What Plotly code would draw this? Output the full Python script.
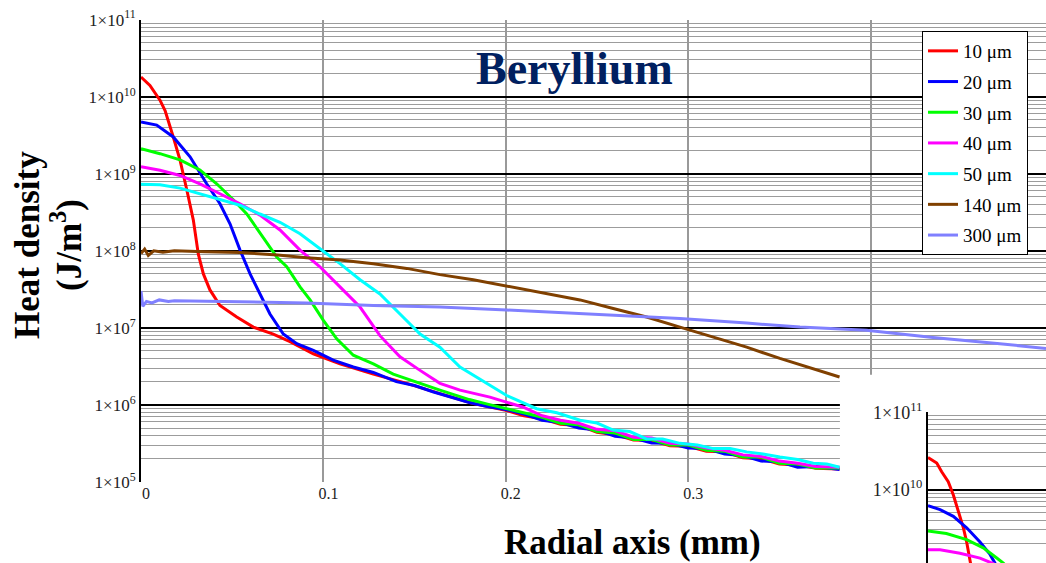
import plotly.graph_objects as go

SERIF = "Liberation Serif"

# ---- main panel: radial heat density in beryllium for several beam sizes ----
# radial position (mm) / heat density (J/m^3)
r_10 = [0, 0.0049, 0.0104, 0.0132, 0.0177, 0.0214, 0.0251, 0.0287, 0.0314, 0.0342, 0.0378,
        0.0433, 0.0525, 0.0616, 0.0725, 0.0817, 0.0945, 0.1091, 0.1274, 0.1457, 0.1639, 0.1822,
        0.20, 0.21, 0.22, 0.23, 0.24, 0.25, 0.26, 0.27, 0.28, 0.29, 0.30, 0.31, 0.32, 0.33,
        0.34, 0.35, 0.36, 0.37, 0.383]
q_10 = [1.8e10, 1.4e10, 9.0e9, 6.6e9, 3.0e9, 1.5e9, 6.2e8, 2.5e8, 9.1e7, 5.0e7, 3.1e7,
        1.95e7, 1.38e7, 1.02e7, 8.3e6, 6.6e6, 4.6e6, 3.4e6, 2.5e6, 1.9e6, 1.4e6, 1.04e6,
        8.5e5, 7.2e5, 6.6e5, 5.6e5, 5.4e5, 4.4e5, 4.1e5, 3.5e5, 3.45e5, 2.95e5, 2.9e5, 2.5e5,
        2.45e5, 2.05e5, 2.0e5, 1.7e5, 1.66e5, 1.5e5, 1.47e5]

r_20 = [0, 0.0086, 0.0177, 0.0269, 0.036, 0.0433, 0.0488, 0.0543, 0.0598, 0.0652, 0.0707,
        0.078, 0.0854, 0.0945, 0.1054, 0.1164, 0.1274, 0.14, 0.15, 0.16, 0.17, 0.18, 0.19,
        0.20, 0.21, 0.22, 0.23, 0.24, 0.25, 0.26, 0.27, 0.28, 0.29, 0.30, 0.31, 0.32, 0.33,
        0.34, 0.35, 0.36, 0.37, 0.383]
q_20 = [4.7e9, 4.27e9, 3.0e9, 1.66e9, 7.4e8, 4.07e8, 2.24e8, 1.02e8, 5.0e7, 2.75e7, 1.51e7,
        8.3e6, 6.2e6, 5.1e6, 3.8e6, 3.1e6, 2.63e6, 2.0e6, 1.78e6, 1.48e6, 1.26e6, 1.07e6, 9.5e5,
        8.7e5, 7.6e5, 6.3e5, 5.9e5, 5.0e5, 4.7e5, 3.9e5, 3.7e5, 3.2e5, 3.16e5, 2.75e5, 2.7e5,
        2.3e5, 2.2e5, 1.86e5, 1.82e5, 1.55e5, 1.58e5, 1.45e5]

r_30 = [0, 0.0104, 0.0214, 0.0323, 0.0415, 0.0506, 0.058, 0.067, 0.0744, 0.0799, 0.0872,
        0.0927, 0.0999, 0.1073, 0.1164, 0.1274, 0.1383, 0.1639, 0.18, 0.19,
        0.20, 0.21, 0.22, 0.23, 0.24, 0.25, 0.26, 0.27, 0.28, 0.29, 0.30, 0.31, 0.32, 0.33,
        0.34, 0.35, 0.36, 0.37, 0.383]
q_30 = [2.12e9, 1.82e9, 1.51e9, 1.12e9, 7.4e8, 4.6e8, 3.0e8, 1.51e8, 8.3e7, 6.2e7, 3.4e7,
        2.3e7, 1.26e7, 7.2e6, 4.4e6, 3.4e6, 2.5e6, 1.55e6, 1.17e6, 1.02e6,
        8.9e5, 7.8e5, 6.9e5, 5.75e5, 5.5e5, 4.5e5, 4.3e5, 3.55e5, 3.55e5, 3.0e5, 3.0e5, 2.57e5,
        2.5e5, 2.1e5, 2.1e5, 1.74e5, 1.7e5, 1.51e5, 1.51e5]

r_40 = [0, 0.0104, 0.0214, 0.0323, 0.0433, 0.0543, 0.0652, 0.0762, 0.0872, 0.0981, 0.1091,
        0.1201, 0.131, 0.142, 0.153, 0.1639, 0.1749, 0.1913, 0.2096,
        0.22, 0.23, 0.24, 0.25, 0.26, 0.27, 0.28, 0.29, 0.30, 0.31, 0.32, 0.33, 0.34, 0.35,
        0.36, 0.37, 0.383]
q_40 = [1.23e9, 1.11e9, 9.5e8, 7.4e8, 5.5e8, 4.07e8, 2.9e8, 1.86e8, 1.02e8, 6.2e7, 3.4e7,
        1.86e7, 7.9e6, 4.2e6, 2.8e6, 1.9e6, 1.55e6, 1.26e6, 9.3e5,
        7.2e5, 6.3e5, 5.75e5, 4.8e5, 4.6e5, 3.8e5, 3.7e5, 3.16e5, 3.1e5, 2.75e5, 2.57e5, 2.24e5,
        2.14e5, 1.86e5, 1.74e5, 1.58e5, 1.55e5]

r_50 = [0, 0.0104, 0.0214, 0.0323, 0.0433, 0.0543, 0.0652, 0.0762, 0.0872, 0.0981, 0.1091,
        0.1201, 0.131, 0.142, 0.153, 0.1639, 0.1749, 0.1895, 0.2005, 0.2169,
        0.228, 0.2407, 0.25, 0.2589, 0.268, 0.2772, 0.286, 0.2955, 0.305, 0.3138, 0.323,
        0.3321, 0.341, 0.3503, 0.36, 0.3686, 0.376, 0.383]
q_50 = [7.3e8, 7.2e8, 6.5e8, 5.5e8, 4.6e8, 3.9e8, 3.0e8, 2.34e8, 1.66e8, 1.07e8, 6.8e7,
        4.2e7, 2.75e7, 1.51e7, 8.3e6, 5.6e6, 3.1e6, 1.9e6, 1.32e6, 8.9e5,
        7.9e5, 6.3e5, 5.8e5, 4.7e5, 4.5e5, 3.6e5, 3.6e5, 3.16e5, 3.0e5, 2.7e5, 2.7e5,
        2.45e5, 2.3e5, 2.1e5, 1.95e5, 1.74e5, 1.7e5, 1.55e5]

r_140 = [0, 0.002, 0.004, 0.007, 0.012, 0.0183, 0.035, 0.0543, 0.075, 0.0908, 0.1091, 0.1274,
         0.1457, 0.1639, 0.1822, 0.2005, 0.2188, 0.2407, 0.2589, 0.2772, 0.2955, 0.3138,
         0.3321, 0.3503, 0.3686, 0.383]
q_140 = [9.2e7, 1.05e8, 8.7e7, 1.0e8, 9.6e7, 1.0e8, 9.7e7, 9.5e7, 8.8e7, 8.1e7, 7.6e7, 6.8e7,
         5.9e7, 4.9e7, 4.2e7, 3.5e7, 2.9e7, 2.3e7, 1.78e7, 1.38e7, 1.02e7, 7.6e6,
         5.6e6, 4.0e6, 2.95e6, 2.3e6]

r_300 = [0, 0.001, 0.003, 0.006, 0.01, 0.015, 0.0183, 0.04, 0.0543, 0.0908, 0.1274, 0.1639,
         0.2005, 0.2188, 0.2589, 0.2955, 0.3321, 0.3613, 0.3977, 0.4342, 0.4709, 0.4962]
q_300 = [3.0e7, 1.9e7, 2.2e7, 2.1e7, 2.3e7, 2.2e7, 2.25e7, 2.2e7, 2.2e7, 2.1e7, 1.95e7, 1.86e7,
         1.7e7, 1.62e7, 1.45e7, 1.32e7, 1.15e7, 1.02e7, 9.3e6, 7.5e6, 6.2e6, 5.4e6]

series_names = ["10 μm", "20 μm", "30 μm", "40 μm", "50 μm", "140 μm", "300 μm"]
series_colors = ["#ff0000", "#0000ff", "#00ff00", "#ff00ff", "#00ffff", "#804000", "#8080ff"]
series_r = [r_10, r_20, r_30, r_40, r_50, r_140, r_300]
series_q = [q_10, q_20, q_30, q_40, q_50, q_140, q_300]

# ---- small inset panel (corner of a second chart) ----
ir_10 = [0, 0.0048, 0.0075, 0.0111, 0.0139, 0.0166, 0.0194, 0.0212, 0.023, 0.026]
iq_10 = [2.6e10, 2.2e10, 1.7e10, 1.26e10, 8.5e9, 5.2e9, 3.2e9, 2.1e9, 1.17e9, 5.0e8]
ir_20 = [0, 0.0066, 0.0139, 0.0212, 0.0285, 0.034, 0.0367, 0.04]
iq_20 = [6.2e9, 5.5e9, 4.5e9, 3.2e9, 2.1e9, 1.45e9, 1.12e9, 8.0e8]
ir_30 = [0, 0.0101, 0.0212, 0.0303, 0.0377, 0.0413, 0.045]
iq_30 = [2.9e9, 2.7e9, 2.25e9, 1.76e9, 1.3e9, 1.12e9, 9.0e8]
ir_40 = [0, 0.0066, 0.0175, 0.0285, 0.0358, 0.042]
iq_40 = [1.66e9, 1.66e9, 1.5e9, 1.3e9, 1.1e9, 9.0e8]
inset_r = [ir_10, ir_20, ir_30, ir_40]
inset_q = [iq_10, iq_20, iq_30, iq_40]

x_ticks = [0, 0.1, 0.2, 0.3, 0.4]
x_ticktext = ["0", "0.1", "0.2", "0.3", ""]
y_ticks = [1e5, 1e6, 1e7, 1e8, 1e9, 1e10, 1e11]
y_ticktext = ["1×10<sup>%d</sup>" % e for e in range(5, 12)]
inset_y_ticks = [1e9, 1e10, 1e11]
inset_y_ticktext = ["1×10<sup>9</sup>", "1×10<sup>10</sup>", "1×10<sup>11</sup>"]

W, H = 1046, 563

fig = go.Figure()
for name, r, q, c in zip(series_names, series_r, series_q, series_colors):
    fig.add_trace(go.Scatter(x=r, y=q, mode="lines", name=name, legendgroup=name,
                             line=dict(color=c, width=3), xaxis="x", yaxis="y"))
for r, q, c in zip(inset_r, inset_q, series_colors):
    fig.add_trace(go.Scatter(x=r, y=q, mode="lines", showlegend=False,
                             line=dict(color=c, width=3), xaxis="x2", yaxis="y2"))

x_tick_font = dict(family=SERIF, size=16, color="#222222")
y_tick_font = dict(family=SERIF, size=17, color="#222222")
minor_grid = dict(dtick="D1", showgrid=True, gridcolor="#9c9c9c", gridwidth=1.4, ticks="")

fig.update_layout(
    width=W, height=H,
    margin=dict(l=0, r=0, t=0, b=0),
    paper_bgcolor="white", plot_bgcolor="white",
    showlegend=True,
    xaxis=dict(domain=[141 / W, 1], range=[0, 0.4962], anchor="y",
               tickmode="array", tickvals=x_ticks, ticktext=x_ticktext,
               showgrid=True, gridcolor="#999999", gridwidth=1.5,
               zeroline=False, showline=False, ticks="", tickfont=x_tick_font,
               ticklabelshift=5, automargin=False),
    yaxis=dict(type="log", domain=[1 - 482 / H, 1 - 19.5 / H], range=[4.998, 11.002],
               anchor="x", tickmode="array", tickvals=y_ticks, ticktext=y_ticktext,
               showgrid=True, gridcolor="black", gridwidth=1.6, minor=minor_grid,
               zeroline=False, showline=True, linecolor="black", linewidth=2,
               ticks="", tickfont=y_tick_font, automargin=False),
    xaxis2=dict(domain=[928 / W, 1], range=[0, 0.0647], anchor="y2",
                showgrid=False, zeroline=False, showline=False, showticklabels=False,
                ticks="", automargin=False),
    yaxis2=dict(type="log", domain=[0, 1 - 412 / H], range=[9.05, 11.003], anchor="x2",
                tickmode="array", tickvals=inset_y_ticks, ticktext=inset_y_ticktext,
                showgrid=True, gridcolor="black", gridwidth=1.6, minor=minor_grid,
                zeroline=False, showline=True, linecolor="black", linewidth=2,
                ticks="", tickfont=dict(family=SERIF, size=18, color="#222222"),
                automargin=False),
    legend=dict(x=922 / W, y=1 - 31 / H, xanchor="left", yanchor="top",
                bgcolor="white", bordercolor="black", borderwidth=1,
                font=dict(family=SERIF, size=19, color="black"),
                traceorder="grouped", tracegroupgap=3),
    shapes=[dict(type="rect", xref="x", yref="y", x0=0.3832, x1=0.6, y0=1e4, y1=2.45e6,
                 fillcolor="white", line=dict(width=0), layer="between")],
    annotations=[
        dict(text="<b>Beryllium</b>", xref="paper", yref="paper", x=574 / W, y=1 - 68.5 / H,
             xanchor="center", yanchor="middle", showarrow=False,
             font=dict(family=SERIF, size=46, color="#002060")),
        dict(text="<b>Radial axis (mm)</b>", xref="paper", yref="paper", x=632 / W, y=1 - 542 / H,
             xanchor="center", yanchor="middle", showarrow=False,
             font=dict(family=SERIF, size=35, color="black")),
        dict(text="<b>Heat density</b>", xref="paper", yref="paper", x=28 / W, y=1 - 245 / H,
             xanchor="center", yanchor="middle", showarrow=False, textangle=-90,
             font=dict(family=SERIF, size=35, color="black")),
        dict(text="<b>(J/m<sup>3</sup>)</b>", xref="paper", yref="paper", x=67 / W, y=1 - 245 / H,
             xanchor="center", yanchor="middle", showarrow=False, textangle=-90,
             font=dict(family=SERIF, size=35, color="black")),
    ],
)

fig.write_html("out.html")
